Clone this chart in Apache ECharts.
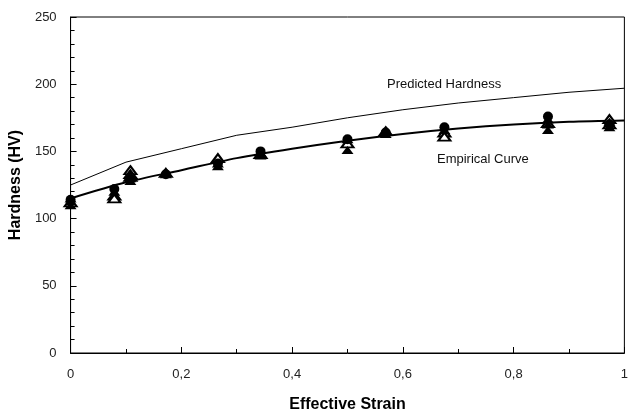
<!DOCTYPE html>
<html><head><meta charset="utf-8">
<script src="https://cdn.jsdelivr.net/npm/echarts@6/dist/echarts.min.js"></script>
<style>html,body{margin:0;padding:0;background:#fff}#c{width:631px;height:418px}</style>
</head><body><div id="c"></div>
<script>
// Predicted hardness (thin line)
const predStrain = [0, 0.1, 0.2, 0.3, 0.4, 0.5, 0.6, 0.7, 0.8, 0.9, 1.0];
const predHV     = [125, 142, 152, 162, 168, 175, 181, 186, 190, 194, 197];
// Empirical curve (thick line)
const empStrain = [0, 0.1, 0.2, 0.3, 0.4, 0.5, 0.6, 0.7, 0.8, 0.9, 1.0];
const empHV     = [115, 127, 136, 145, 152, 158, 163, 167, 170, 172, 173];
// Measured points
const filledTriStrain = [0, 0, 0, 0.079, 0.108, 0.108, 0.172, 0.266, 0.266, 0.343, 0.343, 0.50, 0.50, 0.569, 0.675, 0.862, 0.862, 0.862, 0.973, 0.973];
const filledTriHV     = [110, 113, 115, 120, 128, 130, 133, 141, 139, 149, 147, 159, 151, 163, 166, 174, 170, 166, 172, 168];
const openTriStrain = [0, 0.079, 0.079, 0.108, 0.108, 0.108, 0.172, 0.266, 0.343, 0.50, 0.569, 0.675, 0.675, 0.862, 0.973, 0.973];
const openTriHV     = [112, 117, 115, 136, 133, 131, 134, 145, 148, 156, 165, 164, 161, 171, 174, 170];
const circleStrain = [0, 0.079, 0.108, 0.172, 0.266, 0.343, 0.50, 0.569, 0.675, 0.862, 0.973];
const circleHV     = [114, 122, 129, 133, 141, 150, 159, 164, 168, 176, 170];
// Axis ticks
const xTicks = [0, 0.2, 0.4, 0.6, 0.8, 1];
const yTicks = [0, 50, 100, 150, 200, 250];

const zip = (a, b) => a.map((v, i) => [v, b[i]]);
const chart = echarts.init(document.getElementById('c'), null, {renderer: 'canvas'});
const font = 'Liberation Sans, Arial, sans-serif';
chart.setOption({
  animation: false,
  backgroundColor: '#fff',
  grid: {left: 70, right: 4, top: 17, bottom: 59, show: true, borderColor: '#000', borderWidth: 1},
  xAxis: {
    type: 'value', min: xTicks[0], max: xTicks[xTicks.length - 1], interval: 0.2,
    axisLine: {lineStyle: {color: '#000', width: 1}},
    axisTick: {inside: true, length: 6, lineStyle: {color: '#000'}},
    minorTick: {show: true, splitNumber: 2, length: 4, lineStyle: {color: '#000'}},
    splitLine: {show: false},
    axisLabel: {color: '#222', fontSize: 13, fontFamily: font, margin: 15,
      formatter: v => String(+v.toFixed(1)).replace('.', ',')},
    name: 'Effective Strain', nameLocation: 'middle', nameGap: 44,
    nameTextStyle: {color: '#000', fontSize: 16, fontFamily: font, fontWeight: 'bold'}
  },
  yAxis: {
    type: 'value', min: yTicks[0], max: yTicks[yTicks.length - 1], interval: 50,
    axisLine: {show: true, lineStyle: {color: '#000', width: 1}},
    axisTick: {show: true, inside: true, length: 6, lineStyle: {color: '#000'}},
    minorTick: {show: true, splitNumber: 5, length: 4, lineStyle: {color: '#000'}},
    splitLine: {show: false},
    axisLabel: {color: '#222', fontSize: 13, fontFamily: font, margin: 14},
    name: 'Hardness (HV)', nameLocation: 'middle', nameGap: 42, nameRotate: 90,
    nameTextStyle: {color: '#000', fontSize: 16, fontFamily: font, fontWeight: 'bold'}
  },
  series: [
    {type: 'line', data: zip(predStrain, predHV), symbol: 'none', lineStyle: {color: '#000', width: 1}, z: 2},
    {type: 'line', data: zip(empStrain, empHV), symbol: 'none', smooth: 0.3, lineStyle: {color: '#000', width: 2}, z: 3},
    {type: 'scatter', data: zip(openTriStrain, openTriHV), symbol: 'emptyTriangle', symbolSize: [12, 8],
      itemStyle: {color: '#000', borderColor: '#000', borderWidth: 1.5, opacity: 1}, z: 4},
    {type: 'scatter', data: zip(filledTriStrain, filledTriHV), symbol: 'triangle', symbolSize: [12, 8],
      itemStyle: {color: '#000', opacity: 1}, z: 5},
    {type: 'scatter', data: zip(circleStrain, circleHV), symbol: 'circle', symbolSize: 10,
      itemStyle: {color: '#000', opacity: 1}, z: 6}
  ],
  graphic: [
    {type: 'text', left: 387, top: 78, style: {text: 'Predicted Hardness', font: '13px ' + font, fill: '#111'}},
    {type: 'text', left: 437, top: 153, style: {text: 'Empirical Curve', font: '13px ' + font, fill: '#111'}}
  ]
});
</script></body></html>
